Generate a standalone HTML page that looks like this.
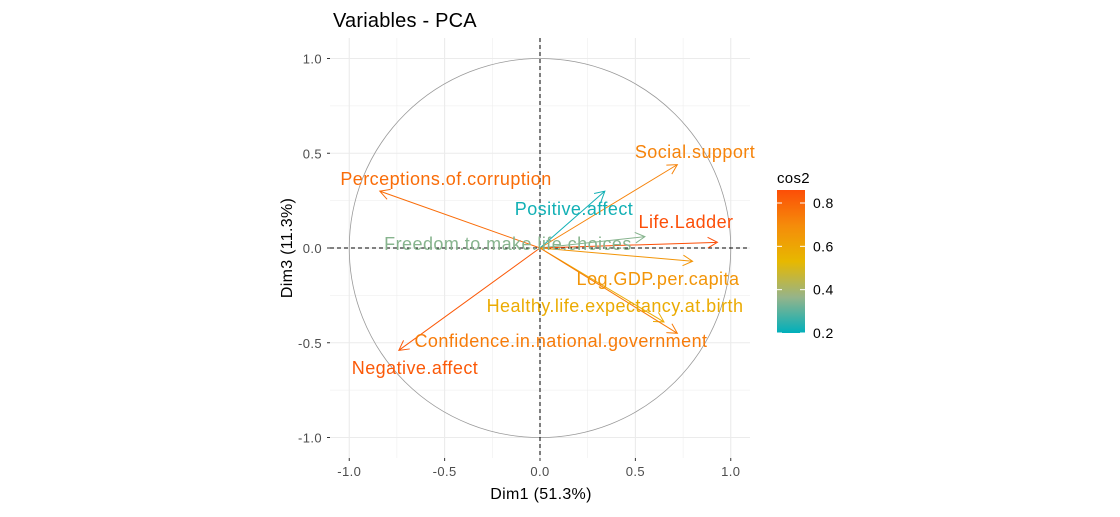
<!DOCTYPE html>
<html><head><meta charset="utf-8"><style>
body{margin:0;background:#fff;}
svg text{font-family:"Liberation Sans",Arial,sans-serif;}
</style></head><body>
<svg id="chart" width="1120" height="512" xmlns="http://www.w3.org/2000/svg">
<defs>
<linearGradient id="cg" x1="0" y1="1" x2="0" y2="0">
<stop offset="0" stop-color="#00AFBB"/><stop offset="0.25" stop-color="#95B48A"/><stop offset="0.5" stop-color="#E7B800"/><stop offset="0.75" stop-color="#F58C0A"/><stop offset="1" stop-color="#FC4E07"/>
</linearGradient>
</defs>
<g id="grid"></g>
<g id="marks"></g>
<text x="333" y="27" font-size="20" letter-spacing="0.2" fill="#000">Variables - PCA</text>
<text x="541" y="499" font-size="16" letter-spacing="0.3" text-anchor="middle" fill="#000">Dim1 (51.3%)</text>
<text transform="translate(292,248) rotate(-90)" font-size="16" letter-spacing="0.3" text-anchor="middle" fill="#000">Dim3 (11.3%)</text>
<g>
<text x="777" y="183" font-size="15" letter-spacing="0.3" fill="#000">cos2</text>
<rect x="777" y="190" width="28" height="143" fill="url(#cg)"/>
<g id="legticks"></g>
</g>
</svg>
<script>
const varNames=["Social.support","Perceptions.of.corruption","Positive.affect","Freedom.to.make.life.choices","Life.Ladder","Log.GDP.per.capita","Healthy.life.expectancy.at.birth","Confidence.in.national.government","Negative.affect"];
const dim1=[0.72,-0.84,0.34,0.55,0.93,0.80,0.65,0.72,-0.74];
const dim3=[0.44,0.30,0.30,0.06,0.03,-0.07,-0.39,-0.45,-0.54];
const cos2=[0.72,0.78,0.22,0.35,0.87,0.66,0.58,0.74,0.83];
const labelX=[695,446,574,508,686,658,615,561,415];
const labelY=[152,179,209,244,222,279,306,341,368];
const axisTicks=[-1.0,-0.5,0.0,0.5,1.0];
const legendTicks=[0.2,0.4,0.6,0.8];
const NS="http://www.w3.org/2000/svg";
const sx=v=>540+v*190.75, sy=v=>248-v*189.5;
const L={x0:330,x1:750,y0:38,y1:458};
const lc=v=>190+(0.86-v)/(0.66)*143;
function mk(t,a,p){const e=document.createElementNS(NS,t);for(const k in a)e.setAttribute(k,a[k]);(p||document.getElementById('chart')).appendChild(e);return e;}
function lerp(a,b,t){return a.map((x,i)=>Math.round(x+(b[i]-x)*t));}
const stops=[[0,175,187],[149,180,138],[231,184,0],[245,140,10],[252,78,7]];
function col(v){const t=Math.max(0,Math.min(1,(v-0.2)/0.66))*4;const i=Math.min(3,Math.floor(t));
 return `rgb(${lerp(stops[i],stops[i+1],t-i)})`;}
const g=document.getElementById('grid');
for(let v=-1;v<=1.001;v+=0.25){const minor=Math.abs(v*2-Math.round(v*2))>0.01;
 const w=minor?0.5:1.1;
 let e=mk('line',{x1:sx(v),x2:sx(v),y1:L.y0,y2:L.y1,stroke:'#ebebeb','stroke-width':w},g);
 
 e=mk('line',{x1:L.x0,x2:L.x1,y1:sy(v),y2:sy(v),stroke:'#ebebeb','stroke-width':w},g);
 }
axisTicks.forEach(v=>{
 let e=mk('text',{x:sx(v),y:476,'font-size':13,'letter-spacing':0.4,'text-anchor':'middle',fill:'#4d4d4d'});e.textContent=v.toFixed(1);
 
 e=mk('text',{x:322,y:sy(v)+5,'font-size':13,'letter-spacing':0.4,'text-anchor':'end',fill:'#4d4d4d'});e.textContent=v.toFixed(1);
 
 mk('line',{x1:sx(v),x2:sx(v),y1:L.y1,y2:L.y1+3,stroke:'#333'});
 mk('line',{x1:L.x0-3,x2:L.x0,y1:sy(v),y2:sy(v),stroke:'#333'});
});
const m=document.getElementById('marks');
let c=mk('ellipse',{cx:sx(0),cy:sy(0),rx:190.75,ry:189.5,fill:'none',stroke:'#999','stroke-width':0.8},m);

let h=mk('line',{x1:L.x0,x2:L.x1,y1:sy(0),y2:sy(0),stroke:'#000','stroke-dasharray':'4,3'},m);

h=mk('line',{x1:sx(0),x2:sx(0),y1:L.y0,y2:L.y1,stroke:'#000','stroke-dasharray':'4,3'},m);

varNames.forEach((n,i)=>{
 const x2=sx(dim1[i]),y2=sy(dim3[i]),cl=col(cos2[i]);
 const ang=Math.atan2(y2-sy(0),x2-sx(0));const a=0.5,len=11;
 const p1=[x2-len*Math.cos(ang-a),y2-len*Math.sin(ang-a)],p2=[x2-len*Math.cos(ang+a),y2-len*Math.sin(ang+a)];
 const ln=mk('path',{d:`M${sx(0)},${sy(0)}L${x2},${y2}M${p1}L${x2},${y2}L${p2}`,fill:'none',stroke:cl,'stroke-width':1},m);
 
 
 const t=mk('text',{x:labelX[i],y:labelY[i]+6,'font-size':18,'letter-spacing':0.45,'text-anchor':'middle',fill:cl});t.textContent=n;
 
 
});
const lt=document.getElementById('legticks');
legendTicks.forEach(v=>{
 mk('line',{x1:777,x2:782,y1:lc(v),y2:lc(v),stroke:'#fff'},lt);
 mk('line',{x1:800,x2:805,y1:lc(v),y2:lc(v),stroke:'#fff'},lt);
 const t=mk('text',{x:813,y:lc(v)+5,'font-size':14,'letter-spacing':0.4,fill:'#000'},lt);t.textContent=v.toFixed(1);
 
});
</script>
</body></html>
